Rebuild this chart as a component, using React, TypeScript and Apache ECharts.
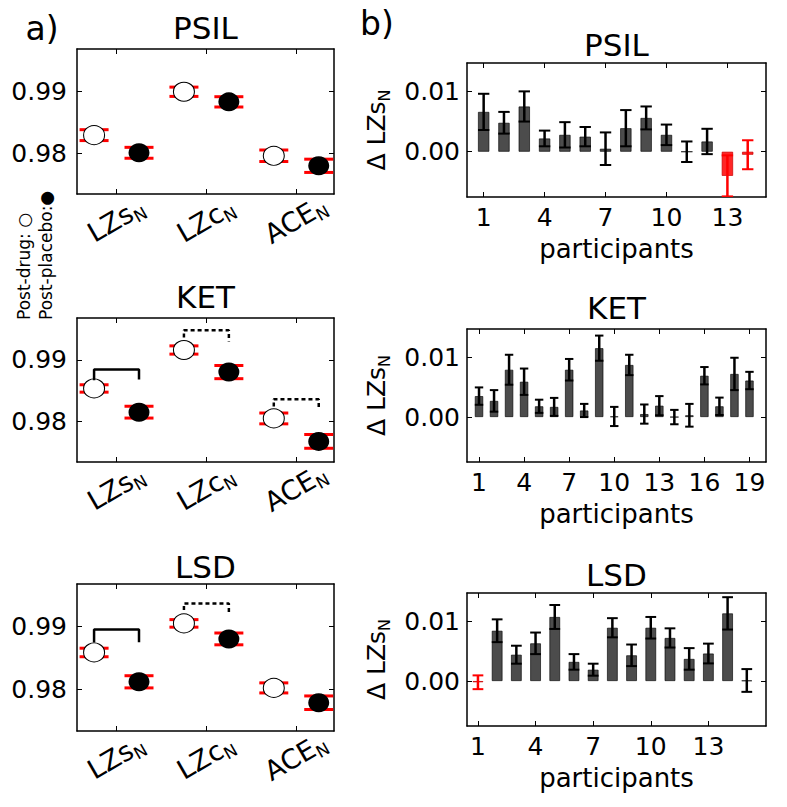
import React, { useEffect, useRef } from 'react';
import * as echarts from 'echarts';

const FONT = 'DejaVu Sans';

// ---------- data: panel a) ----------
const drugNames = ['PSIL', 'KET', 'LSD'];
const measureNames = ['LZs', 'LZc', 'ACE'];
const yTicksA = [0.98, 0.99];

const psilDrug = [0.9829, 0.9899, 0.97957];
const psilDrugErr = [0.00088, 0.00075, 0.00093];
const psilPlacebo = [0.98005, 0.98827, 0.97795];
const psilPlaceboErr = [0.00088, 0.00083, 0.00107];

const ketDrug = [0.98535, 0.9916, 0.98048];
const ketDrugErr = [0.0006, 0.00067, 0.00088];
const ketPlacebo = [0.9815, 0.98801, 0.97675];
const ketPlaceboErr = [0.00096, 0.00107, 0.00112];

const lsdDrug = [0.9859, 0.99053, 0.98026];
const lsdDrugErr = [0.00068, 0.0006, 0.0008];
const lsdPlacebo = [0.98123, 0.98806, 0.9779];
const lsdPlaceboErr = [0.00097, 0.00094, 0.00108];

// significance brackets: [measure index, top, left end, right end, dashed]
const psilBrackets: [number, number, number, number, boolean][] = [];
const ketBrackets: [number, number, number, number, boolean][] = [
  [0, 0.98845, 0.98668, 0.98679, false],
  [1, 0.99481, 0.99362, 0.99298, true],
  [2, 0.98359, 0.9824, 0.98188, true],
];
const lsdBrackets: [number, number, number, number, boolean][] = [
  [0, 0.98956, 0.98747, 0.98752, false],
  [1, 0.99371, 0.99268, 0.99215, true],
];

// ---------- data: panel b) ----------
const yTicksB = [0.0, 0.01];
const psilTicks = [1, 4, 7, 10, 13];
const ketTicks = [1, 4, 7, 10, 13, 16, 19];
const lsdTicks = [1, 4, 7, 10, 13];

const psilDelta = [0.0066, 0.0048, 0.0075, 0.0022, 0.0028, 0.0025, 0.0005, 0.0039, 0.0056, 0.0028, 0.0, 0.0017, -0.004, -0.0005];
const psilDeltaErr = [0.003, 0.0018, 0.0025, 0.0013, 0.0021, 0.0016, 0.0027, 0.003, 0.0019, 0.0017, 0.0017, 0.0021, 0.0034, 0.0024];

const ketDelta = [0.0035, 0.0027, 0.0079, 0.0059, 0.0018, 0.0017, 0.0079, 0.0011, 0.0115, 0.0001, 0.0087, 0.0005, 0.0019, 0.0, 0.0003, 0.0069, 0.0018, 0.0072, 0.0061];
const ketDeltaErr = [0.00145, 0.0018, 0.0025, 0.0022, 0.0011, 0.0015, 0.0018, 0.0011, 0.0021, 0.0016, 0.0017, 0.0016, 0.0016, 0.0012, 0.0019, 0.00145, 0.00145, 0.0027, 0.00145];

const lsdDelta = [-0.0002, 0.0084, 0.0044, 0.0063, 0.0107, 0.0032, 0.0019, 0.0089, 0.0043, 0.0089, 0.0072, 0.0037, 0.0046, 0.0113, 0.0001];
const lsdDeltaErr = [0.00115, 0.0019, 0.0015, 0.0018, 0.002, 0.0013, 0.001, 0.0016, 0.0018, 0.0018, 0.0016, 0.0018, 0.00165, 0.0027, 0.0019];

// ---------- layout ----------
const W = 787;
const H = 807;
const A_LEFT = 77;
const A_WIDTH = 257;
const A_GRIDS = [
  { top: 49, height: 145 },
  { top: 318, height: 144 },
  { top: 584, height: 147 },
];
const A_XRANGE = [-0.44, 2.42];
const A_YRANGE = [0.9734, 0.9968];

const B_LEFT = 467;
const B_WIDTH = 299;
const B_GRIDS = [
  { top: 63, height: 134 },
  { top: 329, height: 133 },
  { top: 593, height: 133 },
];
const B_XRANGES = [
  [0.18, 14.9],
  [0.2, 20.1],
  [0.43, 16.0],
];
const B_YRANGE = [-0.0075, 0.0147];
const BAR_UNITS = 0.56;

const RED = '#ff0000';
const BLACK = '#000000';

const SUB_RICH = (main: number, sub: number) => ({
  m: { fontSize: main, fontFamily: FONT, color: BLACK, lineHeight: main + 3, verticalAlign: 'top' },
  s: { fontSize: sub, fontFamily: FONT, color: BLACK, lineHeight: sub, verticalAlign: 'bottom' },
});

function makeAxes(
  g: number,
  xr: number[],
  yr: number[],
  xTicks: number[],
  yTicks: number[],
  xLabel: any,
  yLabel: any,
  yExtra: any
) {
  const axLine = { show: true, onZero: false, lineStyle: { color: BLACK, width: 1.5 } };
  const tick = (vals: number[]) => ({
    show: true,
    inside: true,
    length: 5,
    customValues: vals,
    lineStyle: { color: BLACK, width: 1 },
  });
  const xs: any[] = [
    {
      type: 'value',
      gridIndex: g,
      position: 'bottom',
      min: xr[0],
      max: xr[1],
      axisLine: axLine,
      axisTick: tick(xTicks),
      axisLabel: { customValues: xTicks, ...xLabel },
      splitLine: { show: false },
    },
    {
      type: 'value',
      gridIndex: g,
      position: 'top',
      min: xr[0],
      max: xr[1],
      axisLine: axLine,
      axisTick: tick(xTicks),
      axisLabel: { show: false },
      splitLine: { show: false },
    },
  ];
  const ys: any[] = [
    {
      type: 'value',
      gridIndex: g,
      position: 'left',
      min: yr[0],
      max: yr[1],
      axisLine: axLine,
      axisTick: tick(yTicks),
      axisLabel: { customValues: yTicks, ...yLabel },
      splitLine: { show: false },
      ...yExtra,
    },
    {
      type: 'value',
      gridIndex: g,
      position: 'right',
      min: yr[0],
      max: yr[1],
      axisLine: axLine,
      axisTick: tick(yTicks),
      axisLabel: { show: false },
      splitLine: { show: false },
    },
  ];
  return { xs, ys };
}

function buildOption() {
  const grid: any[] = [];
  const xAxis: any[] = [];
  const yAxis: any[] = [];
  const series: any[] = [];
  const graphic: any[] = [];

  const aData = [
    { drug: psilDrug, drugErr: psilDrugErr, plc: psilPlacebo, plcErr: psilPlaceboErr, br: psilBrackets },
    { drug: ketDrug, drugErr: ketDrugErr, plc: ketPlacebo, plcErr: ketPlaceboErr, br: ketBrackets },
    { drug: lsdDrug, drugErr: lsdDrugErr, plc: lsdPlacebo, plcErr: lsdPlaceboErr, br: lsdBrackets },
  ];
  const bData = [
    { v: psilDelta, e: psilDeltaErr, t: psilTicks },
    { v: ketDelta, e: ketDeltaErr, t: ketTicks },
    { v: lsdDelta, e: lsdDeltaErr, t: lsdTicks },
  ];

  // panel a)
  aData.forEach((d, k) => {
    const g = grid.length;
    grid.push({ left: A_LEFT, width: A_WIDTH, top: A_GRIDS[k].top, height: A_GRIDS[k].height, show: false });
    const { xs, ys } = makeAxes(
      g,
      A_XRANGE,
      A_YRANGE,
      [0, 1, 2],
      yTicksA,
      {
        rotate: 30,
        align: 'center',
        verticalAlign: 'middle',
        margin: 27,
        formatter: (v: number) => `{m|${measureNames[Math.round(v)]}}{s|N}`,
        rich: SUB_RICH(27, 17),
      },
      {
        fontSize: 25,
        fontFamily: FONT,
        color: BLACK,
        margin: 10,
        formatter: (v: number) => v.toFixed(2),
      },
      {}
    );
    const xi = xAxis.length;
    const yi = yAxis.length;
    xAxis.push(...xs);
    yAxis.push(...ys);

    const errData = [
      ...d.drug.map((v, i) => [i - 0.25, v, d.drugErr[i]]),
      ...d.plc.map((v, i) => [i + 0.25, v, d.plcErr[i]]),
    ];
    series.push({
      type: 'custom',
      xAxisIndex: xi,
      yAxisIndex: yi,
      z: 2,
      clip: true,
      data: errData,
      renderItem: (params: any, api: any) => {
        const x = api.value(0);
        const y = api.value(1);
        const e = api.value(2);
        const p1 = api.coord([x, y + e]);
        const p2 = api.coord([x, y - e]);
        const hw = 14.5;
        return {
          type: 'group',
          children: [
            { type: 'line', shape: { x1: p1[0], y1: p1[1], x2: p2[0], y2: p2[1] }, style: { stroke: RED, lineWidth: 2 } },
            { type: 'line', shape: { x1: p1[0] - hw, y1: p1[1], x2: p1[0] + hw, y2: p1[1] }, style: { stroke: RED, lineWidth: 3 } },
            { type: 'line', shape: { x1: p2[0] - hw, y1: p2[1], x2: p2[0] + hw, y2: p2[1] }, style: { stroke: RED, lineWidth: 3 } },
          ],
        };
      },
    });
    series.push({
      type: 'scatter',
      name: 'Post-drug',
      xAxisIndex: xi,
      yAxisIndex: yi,
      z: 3,
      symbol: 'circle',
      symbolSize: [21, 19],
      itemStyle: { color: '#ffffff', borderColor: BLACK, borderWidth: 1, opacity: 1 },
      data: d.drug.map((v, i) => [i - 0.25, v]),
    });
    series.push({
      type: 'scatter',
      name: 'Post-placebo',
      xAxisIndex: xi,
      yAxisIndex: yi,
      z: 3,
      symbol: 'circle',
      symbolSize: [21, 19],
      itemStyle: { color: BLACK, opacity: 1 },
      data: d.plc.map((v, i) => [i + 0.25, v]),
    });
    d.br.forEach((b) => {
      const [ci, top, le, re, dashed] = b;
      series.push({
        type: 'line',
        xAxisIndex: xi,
        yAxisIndex: yi,
        z: 4,
        silent: true,
        symbol: 'none',
        lineStyle: { color: BLACK, width: 2.5, type: dashed ? [4, 3] : 'solid' },
        data: [
          [ci - 0.25, le],
          [ci - 0.25, top],
          [ci + 0.25, top],
          [ci + 0.25, re],
        ],
      });
    });
  });

  // panel b)
  bData.forEach((d, k) => {
    const g = grid.length;
    grid.push({ left: B_LEFT, width: B_WIDTH, top: B_GRIDS[k].top, height: B_GRIDS[k].height, show: false });
    const xr = B_XRANGES[k];
    const { xs, ys } = makeAxes(
      g,
      xr,
      B_YRANGE,
      d.t,
      yTicksB,
      {
        fontSize: 25,
        fontFamily: FONT,
        color: BLACK,
        margin: 8,
        formatter: (v: number) => String(Math.round(v)),
      },
      {
        fontSize: 25,
        fontFamily: FONT,
        color: BLACK,
        margin: 7,
        formatter: (v: number) => v.toFixed(2),
      },
      {
        name: '{m|Δ LZs}{s|N}',
        nameLocation: 'middle',
        nameGap: 75,
        nameRotate: 90,
        nameTextStyle: { rich: SUB_RICH(25, 16) },
      }
    );
    xs[0].name = 'participants';
    xs[0].nameLocation = 'middle';
    xs[0].nameGap = 39;
    xs[0].nameTextStyle = { fontSize: 26, fontFamily: FONT, color: BLACK };
    const xi = xAxis.length;
    const yi = yAxis.length;
    xAxis.push(...xs);
    yAxis.push(...ys);

    const barPx = (BAR_UNITS * B_WIDTH) / (xr[1] - xr[0]);
    series.push({
      type: 'bar',
      xAxisIndex: xi,
      yAxisIndex: yi,
      z: 2,
      barWidth: barPx,
      data: d.v.map((v, i) => ({
        value: [i + 1, v],
        itemStyle: {
          color: v < 0 ? 'rgba(255,0,0,0.85)' : 'rgba(0,0,0,0.7)',
          borderColor: v < 0 ? 'rgba(200,0,0,0.9)' : 'rgba(0,0,0,0.8)',
          borderWidth: 0.8,
        },
      })),
    });
    series.push({
      type: 'custom',
      xAxisIndex: xi,
      yAxisIndex: yi,
      z: 3,
      clip: true,
      data: d.v.map((v, i) => [i + 1, v, d.e[i]]),
      renderItem: (params: any, api: any) => {
        const x = api.value(0);
        const y = api.value(1);
        const e = api.value(2);
        const p1 = api.coord([x, y + e]);
        const p2 = api.coord([x, y - e]);
        const hw = barPx / 2;
        const c = y < 0 ? RED : BLACK;
        return {
          type: 'group',
          children: [
            { type: 'line', shape: { x1: p1[0], y1: p1[1], x2: p2[0], y2: p2[1] }, style: { stroke: c, lineWidth: 2.5 } },
            { type: 'line', shape: { x1: p1[0] - hw, y1: p1[1], x2: p1[0] + hw, y2: p1[1] }, style: { stroke: c, lineWidth: 2 } },
            { type: 'line', shape: { x1: p2[0] - hw, y1: p2[1], x2: p2[0] + hw, y2: p2[1] }, style: { stroke: c, lineWidth: 2 } },
          ],
        };
      },
    });
  });

  // titles and labels
  const txt = (text: string, x: number, y: number, size: number, extra: any = {}) => ({
    type: 'text',
    x,
    y,
    silent: true,
    style: { text, fontSize: size, fontFamily: FONT, fill: BLACK, align: 'center', verticalAlign: 'middle', ...extra },
  });
  const aCenter = A_LEFT + A_WIDTH / 2;
  const bCenter = B_LEFT + B_WIDTH / 2;
  const aTitleY = [28, 297, 567];
  const bTitleY = [45, 308, 575];
  drugNames.forEach((n, k) => {
    graphic.push(txt(n, aCenter, aTitleY[k], 31));
    graphic.push(txt(n, bCenter, bTitleY[k], 31));
  });
  graphic.push(txt('a)', 42, 28, 33));
  graphic.push(txt('b)', 377, 23, 33));
  graphic.push({
    type: 'text',
    x: 24,
    y: 320,
    rotation: Math.PI / 2,
    silent: true,
    style: { text: 'Post-drug: ○', fontSize: 17, fontFamily: FONT, fill: BLACK, align: 'left', verticalAlign: 'middle' },
  });
  graphic.push({
    type: 'text',
    x: 46,
    y: 320,
    rotation: Math.PI / 2,
    silent: true,
    style: { text: 'Post-placebo:●', fontSize: 17, fontFamily: FONT, fill: BLACK, align: 'left', verticalAlign: 'middle' },
  });

  return {
    animation: false,
    backgroundColor: '#ffffff',
    textStyle: { fontFamily: FONT },
    grid,
    xAxis,
    yAxis,
    series,
    graphic,
  };
}

export default function App() {
  const ref = useRef<HTMLDivElement>(null);
  useEffect(() => {
    document.body.style.margin = '0';
    if (!ref.current) return;
    const chart = echarts.init(ref.current, undefined, { renderer: 'svg' });
    chart.setOption(buildOption() as any);
    return () => chart.dispose();
  }, []);
  return <div ref={ref} style={{ width: W, height: H }} />;
}
